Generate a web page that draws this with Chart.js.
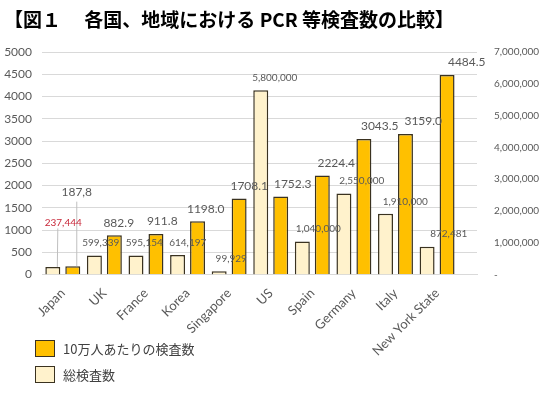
<!DOCTYPE html>
<html lang="ja">
<head>
<meta charset="utf-8">
<script src="https://cdn.jsdelivr.net/npm/chart.js@4.4.0/dist/chart.umd.min.js"></script>
<style>
    body { margin: 0; background: #fff; }
    #wrap { position: relative; width: 547px; height: 395px; }
    #title {
        position: absolute; left: 4px; top: 6px;
        font: bold 19px "Noto Sans CJK JP"; color: #000;
        white-space: pre; line-height: 25px;
    }
    .legend-item {
        position: absolute; left: 35px; display: flex; align-items: center;
        font: 13px "Noto Sans CJK JP"; color: #404040;
    }
    .legend-item .box {
        width: 18px; height: 15px; border: 1px solid #3a3220; margin-right: 8px;
    }
</style>
</head>
<body>
<div id="wrap">
    <canvas id="pcrChart" width="547" height="395"></canvas>
    <div id="title">【図１ 　各国、地域における PCR 等検査数の比較】</div>
    <div class="legend-item" style="top:339px"><span class="box" style="background:#FFC000"></span>10万人あたりの検査数</div>
    <div class="legend-item" style="top:365px"><span class="box" style="background:#FFF2CC"></span>総検査数</div>
</div>
<script>
// Données du graphique
const categories = ['Japan', 'UK', 'France', 'Korea', 'Singapore', 'US', 'Spain', 'Germany', 'Italy', 'New York State'];
const perCapita = [187.8, 882.9, 911.8, 1198.0, 1708.1, 1752.3, 2224.4, 3043.5, 3159.0, 4484.5];
const perCapitaText = ['187,8', '882.9', '911.8', '1198.0', '1708.1', '1752.3', '2224.4', '3043.5', '3159.0', '4484.5'];
const totalTests = [237444, 599339, 595154, 614197, 99929, 5800000, 1040000, 2550000, 1910000, 872481];
const leftMax = 5000, leftStep = 500;
const rightMax = 7000000, rightStep = 1000000;

const numberFont = 'Lato';

// Étiquettes de données dessinées au-dessus des barres
const barLabels = {
    id: 'barLabels',
    afterDatasetsDraw(chart) {
        const ctx = chart.ctx;
        const area = chart.chartArea;
        const slot = area.width / categories.length;
        const totalBars = chart.getDatasetMeta(0).data;
        const rateBars = chart.getDatasetMeta(1).data;
        ctx.save();
        ctx.textAlign = 'center';
        ctx.textBaseline = 'middle';
        categories.forEach((c, i) => {
            const mid = area.left + (i + 0.5) * slot;
            let tx = mid - 6.5, ty = totalBars[i].y - 12.5;
            let rx = mid + 11.5, ry = rateBars[i].y - 12.5;
            let totalColor = '#595959';
            if (i === 0) {
                // Japon : étiquettes décalées avec traits de rappel
                tx += 6; ty -= 32;
                rx += 1.5; ry -= 62;
                totalColor = '#C8283A';
                ctx.strokeStyle = '#bfbfbf';
                ctx.lineWidth = 1;
                ctx.beginPath();
                ctx.moveTo(totalBars[i].x + 5, ty + 6);
                ctx.lineTo(totalBars[i].x + 4.5, totalBars[i].y);
                ctx.moveTo(rateBars[i].x + 4, ry + 10);
                ctx.lineTo(rateBars[i].x + 4, rateBars[i].y);
                ctx.stroke();
            }
            ctx.font = '10px ' + numberFont;
            ctx.fillStyle = totalColor;
            ctx.fillText(totalTests[i].toLocaleString('en-US'), tx, ty);
            ctx.font = '12px ' + numberFont;
            ctx.fillStyle = '#595959';
            ctx.fillText(perCapitaText[i], rx, ry);
        });
        ctx.restore();
    }
};

new Chart(document.getElementById('pcrChart'), {
    type: 'bar',
    data: {
        labels: categories,
        datasets: [
            {
                label: '総検査数',
                data: totalTests,
                yAxisID: 'y1',
                backgroundColor: '#FFF2CC',
                borderColor: '#3a3220',
                borderWidth: 1.5,
                categoryPercentage: 0.96,
                barPercentage: 0.75
            },
            {
                label: '10万人あたりの検査数',
                data: perCapita,
                yAxisID: 'y',
                backgroundColor: '#FFC000',
                borderColor: '#3a3220',
                borderWidth: 1.5,
                categoryPercentage: 0.96,
                barPercentage: 0.75
            }
        ]
    },
    options: {
        responsive: false,
        animation: false,
        devicePixelRatio: 1,
        layout: { padding: { top: 52, left: 0, right: 0, bottom: 0 } },
        plugins: {
            legend: { display: false },
            tooltip: { enabled: false },
            title: { display: false }
        },
        scales: {
            x: {
                offset: true,
                afterBuildTicks: s => { s._valueRange = s.ticks.length + 0.46; },
                afterFit: s => { s.height = 120.5; },
                grid: { display: false },
                border: { color: '#d9d9d9' },
                ticks: {
                    minRotation: 45,
                    maxRotation: 45,
                    autoSkip: false,
                    color: '#595959',
                    font: { family: numberFont, size: 13 }
                }
            },
            y: {
                position: 'left',
                min: 0,
                max: leftMax,
                afterFit: s => { s.width = 42; },
                grid: { color: '#d9d9d9', drawTicks: false },
                border: { display: false },
                ticks: {
                    stepSize: leftStep,
                    padding: 10,
                    color: '#595959',
                    font: { family: numberFont, size: 12 },
                    callback: v => String(v)
                }
            },
            y1: {
                position: 'right',
                min: 0,
                max: rightMax,
                afterFit: s => { s.width = 70; },
                grid: { display: false, drawTicks: false },
                border: { display: false },
                ticks: {
                    stepSize: rightStep,
                    padding: 17,
                    color: '#595959',
                    font: { family: numberFont, size: 10 },
                    callback: v => v === 0 ? '-' : v.toLocaleString('en-US')
                }
            }
        }
    },
    plugins: [barLabels]
});
</script>
</body>
</html>
